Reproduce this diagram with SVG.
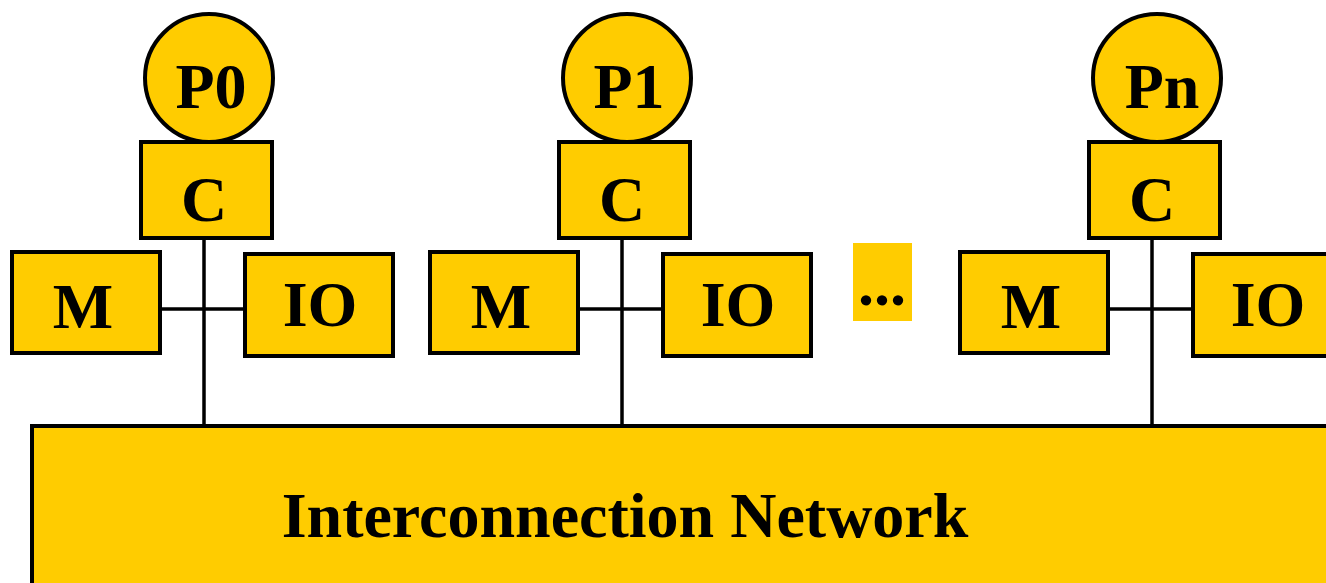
<svg xmlns="http://www.w3.org/2000/svg" width="1326" height="583" viewBox="0 0 1326 583">
<style>
.box{fill:#FFCC00;stroke:#000;stroke-width:4}
.ln{stroke:#000;stroke-width:3.5;fill:none}
.t{font-family:"Liberation Serif","Times New Roman",serif;font-weight:bold;font-size:64px;text-anchor:middle;fill:#000}
</style>
<rect width="1326" height="583" fill="#fff"/>
<g id="connectors">
<line class="ln" x1="204" y1="238" x2="204" y2="425"/>
<line class="ln" x1="160" y1="309" x2="245" y2="309"/>
<line class="ln" x1="622" y1="238" x2="622" y2="425"/>
<line class="ln" x1="578" y1="309" x2="663" y2="309"/>
<line class="ln" x1="1152" y1="238" x2="1152" y2="425"/>
<line class="ln" x1="1108" y1="309" x2="1193" y2="309"/>
</g>
<g id="network"><rect class="box" x="32" y="426" width="1310" height="170"/><text class="t" x="625" y="537">Interconnection Network</text></g>
<g id="p0"><circle class="box" cx="209" cy="78" r="64"/><text class="t" x="211" y="108">P0</text></g>
<g id="c0"><rect class="box" x="141" y="142" width="131" height="96"/><text class="t" x="204" y="221">C</text></g>
<g id="m0"><rect class="box" x="12" y="252" width="148" height="101"/><text class="t" x="83" y="328">M</text></g>
<g id="io0"><rect class="box" x="245" y="254" width="148" height="102"/><text class="t" x="320" y="326">IO</text></g>
<g id="p1"><circle class="box" cx="627" cy="78" r="64"/><text class="t" x="629" y="108">P1</text></g>
<g id="c1"><rect class="box" x="559" y="142" width="131" height="96"/><text class="t" x="622" y="221">C</text></g>
<g id="m1"><rect class="box" x="430" y="252" width="148" height="101"/><text class="t" x="501" y="328">M</text></g>
<g id="io1"><rect class="box" x="663" y="254" width="148" height="102"/><text class="t" x="738" y="326">IO</text></g>
<g id="pn"><circle class="box" cx="1157" cy="78" r="64"/><text class="t" x="1162" y="108">Pn</text></g>
<g id="cn"><rect class="box" x="1089" y="142" width="131" height="96"/><text class="t" x="1152" y="221">C</text></g>
<g id="mn"><rect class="box" x="960" y="252" width="148" height="101"/><text class="t" x="1031" y="328">M</text></g>
<g id="ion"><rect class="box" x="1193" y="254" width="148" height="102"/><text class="t" x="1268" y="326">IO</text></g>
<g id="ellipsis"><rect x="853" y="243" width="59" height="78" fill="#FFCC00"/><text class="t" x="882" y="305">...</text></g>
</svg>
